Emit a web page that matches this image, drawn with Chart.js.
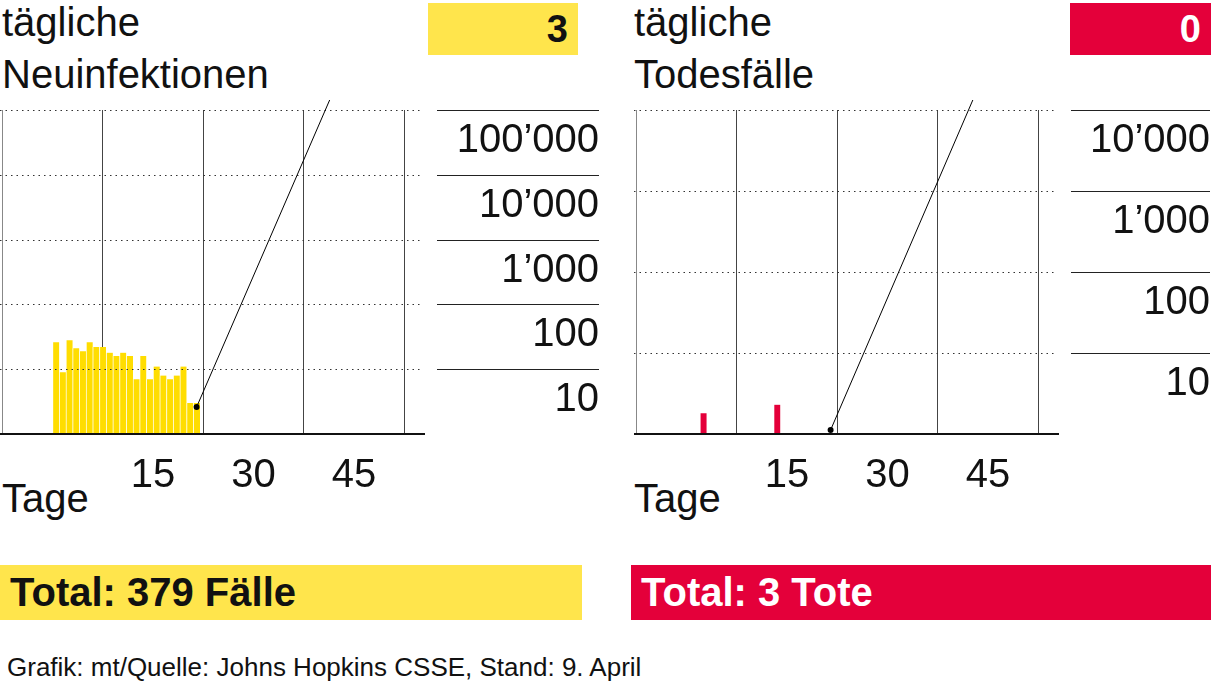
<!DOCTYPE html>
<html>
<head>
<meta charset="utf-8">
<script src="https://cdn.jsdelivr.net/npm/chart.js@4"></script>
<style>
  body { margin: 0; width: 1211px; height: 687px; background: #fff; position: relative; overflow: hidden;
         font-family: "Liberation Sans", Arial, sans-serif; color: #111; }
  .t { position: absolute; font-size: 40px; line-height: 52px; }
  .box { position: absolute; font-weight: bold; font-size: 38px; text-align: right; box-sizing: border-box; padding-right: 10px; line-height: 52px; }
  .total { position: absolute; font-weight: bold; font-size: 40px; line-height: 55px; padding-left: 10px; box-sizing: border-box; }
  canvas { position: absolute; }
</style>
</head>
<body>
<div class="t" style="left:2px;top:-4px">tägliche<br>Neuinfektionen</div>
<div class="t" style="left:634px;top:-4px">tägliche<br>Todesfälle</div>
<div class="box" style="left:428px;top:3px;width:150px;height:52px;background:#ffe54c">3</div>
<div class="box" style="left:1070px;top:3px;width:141px;height:52px;background:#e4003a;color:#fff">0</div>
<div class="t" style="left:2px;top:472px">Tage</div>
<div class="t" style="left:634px;top:472px">Tage</div>
<div class="total" style="left:0;top:565px;width:582px;background:#ffe54c">Total: 379 Fälle</div>
<div class="total" style="left:631px;top:565px;width:580px;background:#e4003a;color:#fff">Total: 3 Tote</div>
<div style="position:absolute;left:7px;top:652px;font-size:26px">Grafik: mt/Quelle: Johns Hopkins CSSE, Stand: 9. April</div>

<div id="w1" style="position:absolute;left:0;top:100px;width:600px;height:430px"><canvas id="c1"></canvas></div>
<div id="w2" style="position:absolute;left:634px;top:100px;width:577px;height:430px"><canvas id="c2"></canvas></div>

<script>
  const days = Array.from({ length: 22 }, (_, i) => i + 1);
  const newCases = [26, 9, 28, 21, 19, 26, 22, 22, 18, 16, 18, 16, 7, 16, 7, 11, 8, 7, 8, 11, 3, 3];
  const deaths = [null, null, 1.8, null, null, null, null, null, null, null, null, null, null, 2.3, null, null, null, null, null, null, null, null];
  const xTicks = [15, 30, 45];
  const casesLevels = [10, 100, 1000, 10000, 100000];
  const deathLevels = [10, 100, 1000, 10000];

  const fmt = (v) => String(v).replace(/\B(?=(\d{3})+(?!\d))/g, '’');

  function panelPlugin(levels, calloutTo, lastVal) {
    return {
      id: 'panel',
      afterDatasetsDraw(chart) {
        const { ctx, chartArea: a, scales: { x, y } } = chart;
        const W = chart.width;
        ctx.save();
        // dotted grid + label column
        for (const v of levels) {
          const py = Math.round(y.getPixelForValue(v)) + 0.5;
          ctx.strokeStyle = '#333';
          ctx.lineWidth = 1.2;
          ctx.setLineDash([1.5, 4]);
          ctx.beginPath(); ctx.moveTo(a.left, py); ctx.lineTo(a.right, py); ctx.stroke();
          ctx.setLineDash([]);
          ctx.strokeStyle = '#222';
          ctx.lineWidth = 1;
          ctx.beginPath(); ctx.moveTo(a.right + 17, py); ctx.lineTo(W - 1, py); ctx.stroke();
          ctx.fillStyle = '#111';
          ctx.font = '40px "Liberation Sans", Arial, sans-serif';
          ctx.textAlign = 'right';
          ctx.textBaseline = 'middle';
          ctx.fillText(fmt(v), W - 1, py + 30);
        }
        // baseline
        ctx.strokeStyle = '#111';
        ctx.lineWidth = 2;
        ctx.beginPath(); ctx.moveTo(a.left, a.bottom); ctx.lineTo(a.right + 5, a.bottom); ctx.stroke();
        // callout
        const dx = x.getPixelForValue(days.length - 0.5);
        const dy = lastVal ? y.getPixelForValue(lastVal) + 4 : a.bottom - 4;
        ctx.fillStyle = '#000';
        ctx.beginPath(); ctx.arc(dx, dy, 3, 0, Math.PI * 2); ctx.fill();
        ctx.strokeStyle = '#000';
        ctx.lineWidth = 1;
        ctx.beginPath(); ctx.moveTo(dx, dy); ctx.lineTo(calloutTo[0], calloutTo[1]); ctx.lineTo(calloutTo[2], calloutTo[1]); ctx.stroke();
        ctx.restore();
      }
    };
  }

  function makeChart(id, values, color, yMax, levels, rightPad, callout, lastVal) {
    return new Chart(document.getElementById(id), {
      type: 'bar',
      data: {
        datasets: [{
          data: days.map((d, i) => ({ x: d - 0.5, y: values[i] })),
          backgroundColor: color,
          borderColor: 'rgba(255,255,255,0.35)',
          borderWidth: { left: 1, right: 0, top: 0, bottom: 0 },
          barPercentage: 1,
          categoryPercentage: 1
        }]
      },
      options: {
        responsive: true,
        maintainAspectRatio: false,
        animation: false,
        layout: { padding: { top: 10, right: rightPad, bottom: 12, left: 0 } },
        plugins: { legend: { display: false }, tooltip: { enabled: false } },
        scales: {
          x: {
            type: 'linear',
            min: 0,
            max: 47,
            afterBuildTicks: (s) => { s.ticks = [0, ...xTicks].map(v => ({ value: v })); },
            ticks: {
              autoSkip: false,
              maxRotation: 0,
              padding: 18,
              color: '#111',
              font: { size: 40, family: '"Liberation Sans", Arial, sans-serif' },
              callback: (v) => (v === 0 ? '' : String(v))
            },
            grid: {
              drawTicks: false,
              color: (c) => (c.tick && c.tick.value === 0 ? '#888' : '#444'),
              lineWidth: 1
            },
            border: { display: false }
          },
          y: {
            type: 'logarithmic',
            min: 1,
            max: yMax,
            display: false
          }
        }
      },
      plugins: [panelPlugin(levels, callout, lastVal)]
    });
  }

  makeChart('c1', newCases, '#ffdd00', 100000, casesLevels, 180, [360, -70, 428], 3);
  makeChart('c2', deaths, '#e4003a', 10000, deathLevels, 157, [369, -70, 436], null);
</script>
</body>
</html>
